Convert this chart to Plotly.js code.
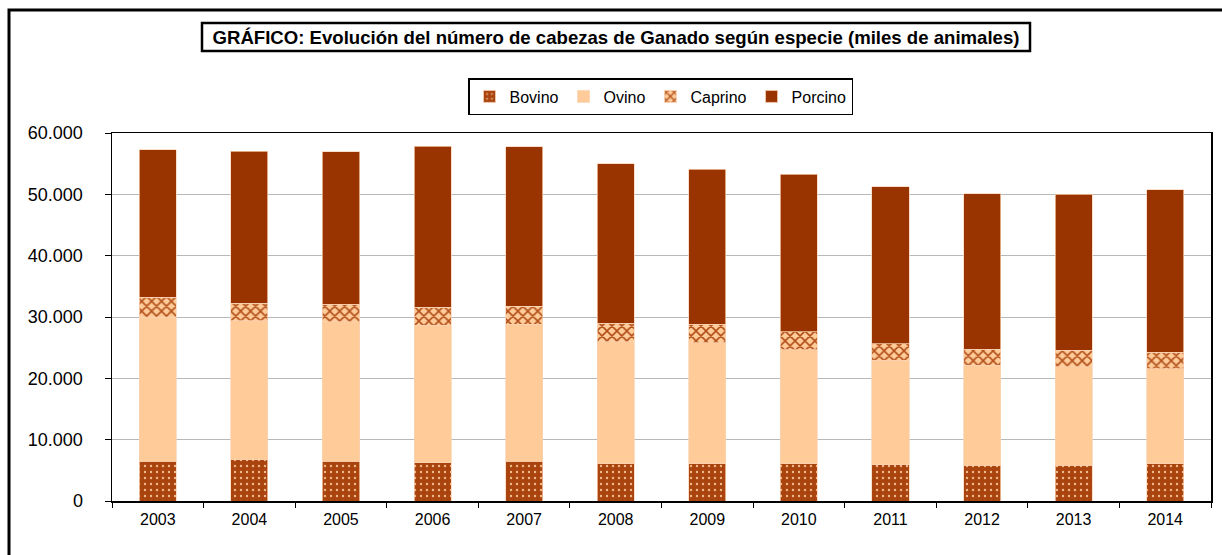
<!DOCTYPE html>
<html>
<head>
<meta charset="utf-8">
<script src="https://cdn.plot.ly/plotly-3.0.1.min.js"></script>
<style>
  html, body { margin: 0; padding: 0; background: #ffffff; }
  #chart { width: 1222px; height: 555px; }
</style>
</head>
<body>
<div id="chart"></div>
<script>
// Categories (years)
const years = ['2003','2004','2005','2006','2007','2008','2009','2010','2011','2012','2013','2014'];

// Series values (miles de animales)
const bovino  = [6520, 6690, 6520, 6200, 6520, 6080, 6080, 6080, 5920, 5820, 5820, 6080];
const ovino   = [23480, 22740, 22670, 22450, 22290, 19890, 19730, 18590, 17020, 16310, 16080, 15490];
const caprino = [3260, 2810, 2930, 2980, 2940, 3000, 3000, 2890, 2710, 2600, 2670, 2720];
const porcino = [23970, 24780, 24830, 26200, 25970, 25980, 25270, 25710, 25600, 25330, 25440, 26470];

// Y-axis ticks
const yTickVals = [0, 10000, 20000, 30000, 40000, 50000, 60000];

const FONT = 'Liberation Sans, Arial, sans-serif';
const edge = {color: 'rgba(250,210,180,0.9)', width: 0.8};

const traces = [
  {
    type: 'bar', name: 'Bovino', x: years, y: bovino,
    marker: {
      color: '#a9440f', line: edge,
      pattern: {shape: '.', bgcolor: '#a9440f', fgcolor: '#f3b98a', size: 6, solidity: 0.12, fillmode: 'replace'}
    }
  },
  {
    type: 'bar', name: 'Ovino', x: years, y: ovino,
    marker: {color: '#ffcc99', line: edge}
  },
  {
    type: 'bar', name: 'Caprino', x: years, y: caprino,
    marker: {
      color: '#ffcc99', line: edge,
      pattern: {shape: 'x', bgcolor: '#ffcc99', fgcolor: '#b24f1a', size: 7, solidity: 0.4, fillmode: 'replace'}
    }
  },
  {
    type: 'bar', name: 'Porcino', x: years, y: porcino,
    marker: {color: '#993300', line: edge}
  }
];

// plot area: x 112..1211, y 133..501 (pixels)
const L = 112, R = 1211, T = 133, B = 501;
const px = v => (v - L) / (R - L);
const py = v => (B - v) / (B - T);

const layout = {
  width: 1222, height: 555,
  margin: {l: L, r: 1222 - R, t: T, b: 555 - B, pad: 0},
  paper_bgcolor: '#ffffff', plot_bgcolor: '#ffffff',
  separators: ',.',
  barmode: 'stack',
  bargap: 0.595,
  font: {family: FONT, size: 16, color: '#000000'},
  title: {
    text: '<b>GRÁFICO: Evolución del número de cabezas de Ganado según especie (miles de animales)</b>',
    font: {family: FONT, size: 18.6, color: '#000000'},
    xref: 'paper', x: px(616), xanchor: 'center',
    yref: 'container', y: 1 - 37.5 / 555, yanchor: 'middle'
  },
  showlegend: true,
  legend: {
    orientation: 'h', traceorder: 'normal',
    x: px(660.5), xanchor: 'center', xref: 'paper',
    y: py(78), yanchor: 'top', yref: 'paper',
    bordercolor: '#000000', borderwidth: 1.5,
    bgcolor: '#ffffff',
    font: {family: FONT, size: 16, color: '#000000'},
    itemwidth: 30, tracegroupgap: 0
  },
  xaxis: {
    type: 'category',
    showline: true, linecolor: '#000000', linewidth: 1.5, mirror: true,
    ticks: 'outside', tickson: 'boundaries', ticklen: 5, tickcolor: '#000000', tickwidth: 1,
    showgrid: false, zeroline: false,
    tickfont: {family: FONT, size: 16, color: '#000000'},
    ticklabelstandoff: 3
  },
  yaxis: {
    range: [0, 60000],
    tickvals: yTickVals, tickformat: ',d',
    showline: true, linecolor: '#000000', linewidth: 1.5, mirror: true,
    ticks: 'outside', ticklen: 6, tickcolor: '#000000', tickwidth: 1,
    showgrid: true, gridcolor: '#b8b8b8', gridwidth: 1,
    zeroline: false,
    tickfont: {family: FONT, size: 18, color: '#000000'},
    ticklabelstandoff: 18
  },
  shapes: [
    // title box
    {type: 'rect', xref: 'paper', yref: 'paper',
     x0: px(202), x1: px(1030), y0: py(51), y1: py(23),
     line: {color: '#000000', width: 2.5}, fillcolor: 'rgba(0,0,0,0)', layer: 'above'},
    // outer frame
    {type: 'rect', xref: 'paper', yref: 'paper',
     x0: px(9), x1: px(1260), y0: py(620), y1: py(10),
     line: {color: '#000000', width: 3}, fillcolor: 'rgba(0,0,0,0)', layer: 'above'}
  ]
};

Plotly.newPlot('chart', traces, layout, {displayModeBar: false, staticPlot: true});
</script>
</body>
</html>
